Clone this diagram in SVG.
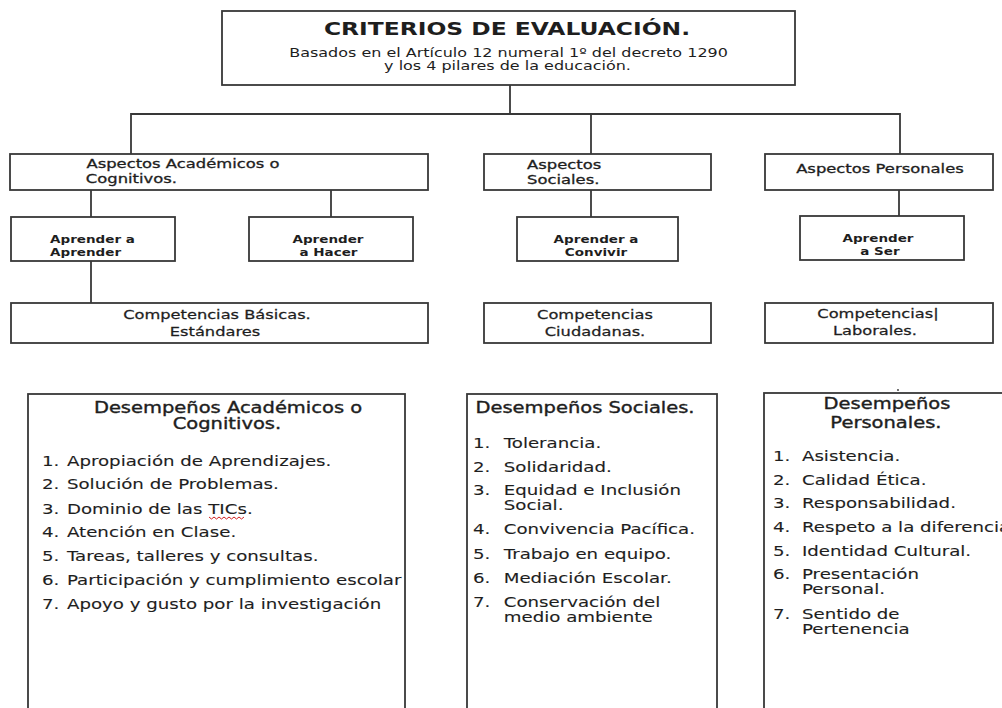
<svg xmlns="http://www.w3.org/2000/svg" width="1002" height="708" viewBox="0 0 1002 708">
<style>
rect.b{fill:#fff;stroke:#383838;stroke-width:1.8}
.c path,.c line{stroke:#383838;stroke-width:1.8;fill:none}
text{font-family:"DejaVu Sans","Verdana",sans-serif;fill:#1e1e1e}
.h{font-weight:bold;font-size:18px}
.s{font-size:12.3px}
.a{font-size:12.6px;stroke:#1e1e1e;stroke-width:0.3}
.p{font-size:10.4px;font-weight:bold}
.k{font-size:12.5px;stroke:#1e1e1e;stroke-width:0.25}
.d{font-size:15px;stroke:#1e1e1e;stroke-width:0.35}
.i{font-size:14px;stroke:#1e1e1e;stroke-width:0.1}
.m{text-anchor:middle}
</style>
<rect width="1002" height="708" fill="#fff"/>
<g class="c" id="connectors">
<path d="M510,85 V114"/>
<path d="M131,154 V114 H900 V154"/>
<path d="M591,114 V154"/>
<path d="M91,190 V217"/>
<path d="M331,190 V217"/>
<path d="M91,261 V303"/>
<path d="M591,190 V217"/>
<path d="M899,190 V216"/>
</g>
<g id="n-criterios">
<rect class="b" x="222" y="11" width="573" height="74"/>
<g transform="scale(1.3,1)">
<text class="h m" x="390" y="35">CRITERIOS DE EVALUACIÓN.</text>
<text class="s m" x="391.2" y="57">Basados en el Artículo 12 numeral 1º del decreto 1290</text>
<text class="s m" x="390.4" y="70">y los 4 pilares de la educación.</text>
</g>
</g>
<g id="n-asp-academicos">
<rect class="b" x="10" y="154" width="418" height="36"/>
<g transform="scale(1.3,1)">
<text class="a" x="66.5" y="168">Aspectos Académicos o</text>
<text class="a" x="66" y="183">Cognitivos.</text>
</g>
</g>
<g id="n-asp-sociales">
<rect class="b" x="484" y="154" width="227" height="36"/>
<g transform="scale(1.3,1)">
<text class="a" x="405.4" y="169">Aspectos</text>
<text class="a" x="405.4" y="184">Sociales.</text>
</g>
</g>
<g id="n-asp-personales">
<rect class="b" x="765" y="154" width="228" height="36"/>
<g transform="scale(1.3,1)">
<text class="a m" x="676.9" y="173">Aspectos Personales</text>
</g>
</g>
<g id="n-aprender-aprender">
<rect class="b" x="11" y="217" width="164" height="44"/>
<g transform="scale(1.3,1)">
<text class="p" x="38.5" y="243">Aprender a</text>
<text class="p" x="38.5" y="256">Aprender</text>
</g>
</g>
<g id="n-aprender-hacer">
<rect class="b" x="249" y="217" width="164" height="44"/>
<g transform="scale(1.3,1)">
<text class="p m" x="252.3" y="243">Aprender</text>
<text class="p m" x="252.7" y="256">a Hacer</text>
</g>
</g>
<g id="n-aprender-convivir">
<rect class="b" x="517" y="217" width="161" height="44"/>
<g transform="scale(1.3,1)">
<text class="p m" x="458.5" y="243">Aprender a</text>
<text class="p m" x="458.5" y="256">Convivir</text>
</g>
</g>
<g id="n-aprender-ser">
<rect class="b" x="800" y="216" width="164" height="44"/>
<g transform="scale(1.3,1)">
<text class="p m" x="675.4" y="242">Aprender</text>
<text class="p m" x="676.9" y="255">a Ser</text>
</g>
</g>
<g id="n-comp-basicas">
<rect class="b" x="11" y="303" width="417" height="40"/>
<g transform="scale(1.3,1)">
<text class="k m" x="166.9" y="319">Competencias Básicas.</text>
<text class="k m" x="165.4" y="336">Estándares</text>
</g>
</g>
<g id="n-comp-ciudadanas">
<rect class="b" x="484" y="303" width="227" height="40"/>
<g transform="scale(1.3,1)">
<text class="k m" x="457.7" y="319">Competencias</text>
<text class="k m" x="457.7" y="336">Ciudadanas.</text>
</g>
</g>
<g id="n-comp-laborales">
<rect class="b" x="765" y="303" width="228" height="40"/>
<g transform="scale(1.3,1)">
<text class="k m" x="675.4" y="318">Competencias|</text>
<text class="k m" x="673" y="335">Laborales.</text>
</g>
</g>
<g id="n-des-academicos">
<rect class="b" x="28" y="394" width="377" height="340"/>
<g transform="scale(1.3,1)">
<text class="d m" x="175.4" y="413">Desempeños Académicos o</text>
<text class="d m" x="174.6" y="429">Cognitivos.</text>
<text class="i" x="32.3" y="466">1.</text><text class="i" x="51.5" y="466">Apropiación de Aprendizajes.</text>
<text class="i" x="32.3" y="489">2.</text><text class="i" x="51.5" y="489">Solución de Problemas.</text>
<text class="i" x="32.3" y="514">3.</text><text class="i" x="51.5" y="514">Dominio de las TICs.</text>
<text class="i" x="32.3" y="537">4.</text><text class="i" x="51.5" y="537">Atención en Clase.</text>
<text class="i" x="32.3" y="561">5.</text><text class="i" x="51.5" y="561">Tareas, talleres y consultas.</text>
<text class="i" x="32.3" y="585">6.</text><text class="i" x="51.5" y="585">Participación y cumplimiento escolar</text>
<text class="i" x="32.3" y="609">7.</text><text class="i" x="51.5" y="609">Apoyo y gusto por la investigación</text>
</g>
<path d="M209,517 l2.5,2 l2.5,-2 l2.5,2 l2.5,-2 l2.5,2 l2.5,-2 l2.5,2 l2.5,-2 l2.5,2 l2.5,-2 l2.5,2 l2.5,-2 l2.5,2 l2.5,-2" fill="none" stroke="#d02020" stroke-width="1"/>
</g>
<g id="n-des-sociales">
<rect class="b" x="467" y="394" width="250" height="340"/>
<g transform="scale(1.3,1)">
<text class="d m" x="450" y="413">Desempeños Sociales.</text>
<text class="i" x="363.8" y="448">1.</text><text class="i" x="387.5" y="448">Tolerancia.</text>
<text class="i" x="363.8" y="472">2.</text><text class="i" x="387.5" y="472">Solidaridad.</text>
<text class="i" x="363.8" y="495">3.</text><text class="i" x="387.5" y="495">Equidad e Inclusión</text>
<text class="i" x="387.5" y="510">Social.</text>
<text class="i" x="363.8" y="534">4.</text><text class="i" x="387.5" y="534">Convivencia Pacífica.</text>
<text class="i" x="363.8" y="559">5.</text><text class="i" x="387.5" y="559">Trabajo en equipo.</text>
<text class="i" x="363.8" y="583">6.</text><text class="i" x="387.5" y="583">Mediación Escolar.</text>
<text class="i" x="363.8" y="607">7.</text><text class="i" x="387.5" y="607">Conservación del</text>
<text class="i" x="387.5" y="622">medio ambiente</text>
</g>
</g>
<g id="n-des-personales">
<circle cx="898" cy="390" r="0.9" fill="#333"/>
<rect class="b" x="764" y="393" width="260" height="340"/>
<g transform="scale(1.3,1)">
<text class="d m" x="682.3" y="409">Desempeños</text>
<text class="d m" x="681.5" y="428">Personales.</text>
<text class="i" x="594.6" y="461">1.</text><text class="i" x="616.9" y="461">Asistencia.</text>
<text class="i" x="594.6" y="485">2.</text><text class="i" x="616.9" y="485">Calidad Ética.</text>
<text class="i" x="594.6" y="508">3.</text><text class="i" x="616.9" y="508">Responsabilidad.</text>
<text class="i" x="594.6" y="532">4.</text><text class="i" x="616.9" y="532">Respeto a la diferencia</text>
<text class="i" x="594.6" y="556">5.</text><text class="i" x="616.9" y="556">Identidad Cultural.</text>
<text class="i" x="594.6" y="579">6.</text><text class="i" x="616.9" y="579">Presentación</text>
<text class="i" x="616.9" y="594">Personal.</text>
<text class="i" x="594.6" y="619">7.</text><text class="i" x="616.9" y="619">Sentido de</text>
<text class="i" x="616.9" y="634">Pertenencia</text>
</g>
</g>
</svg>
